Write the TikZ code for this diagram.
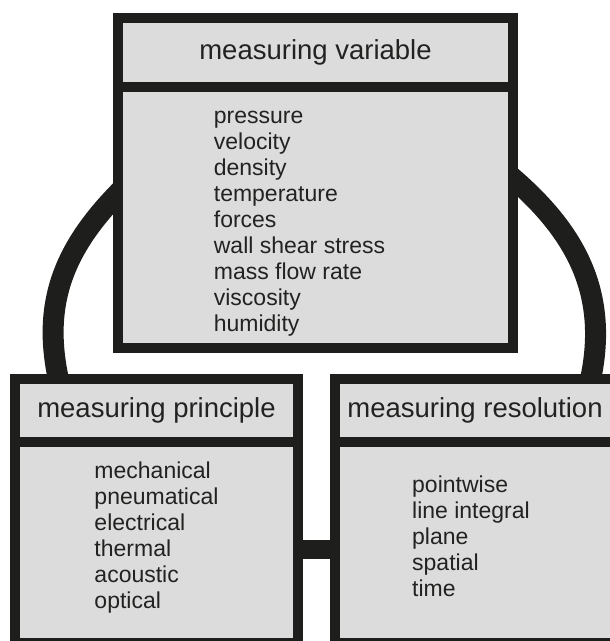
\documentclass[tikz,border=0pt]{standalone}
\usepackage{fontspec}
\setmainfont{Liberation Sans}
\usetikzlibrary{positioning}
\definecolor{boxColor}{HTML}{DCDCDC}
\definecolor{lineColor}{HTML}{1E1E1C}
\definecolor{textColor}{HTML}{222221}
\pgfdeclarelayer{background}
\pgfsetlayers{background,main}
\tikzstyle{header} = [rectangle, 
draw=lineColor, 
line width=10pt, 
fill=boxColor, 
outer sep=0pt, 
inner sep=0pt, 
text=textColor, 
font=\fontsize{27.5}{33}\selectfont]
\tikzstyle{listing} = [rectangle, 
draw=lineColor, 
line width=10pt, 
fill=boxColor, 
outer sep=0pt, 
inner sep=0pt, 
text=textColor, 
font=\fontsize{23}{26}\selectfont]
\tikzstyle{ring} = [draw=lineColor, line width=21pt, shorten <=-15pt, shorten >=-15pt]
\tikzstyle{bridge} = [draw=lineColor, line width=19pt]

\begin{document}
\begin{tikzpicture}[x=1pt,y=1pt]
    \useasboundingbox (0,0) rectangle (610,641);
    \clip (0,0) rectangle (610,641);
    % Nodes
    \node[header, minimum width=395pt, minimum height=69pt] (var) at (315.5,588.5) {measuring variable};
    \node[listing, below=0pt of var, minimum width=395pt, minimum height=261pt] (varlist) {\begin{tabular}{@{}l@{\hspace{32pt}}}\rule{0pt}{28pt}pressure\\velocity\\density\\temperature\\forces\\wall shear stress\\mass flow rate\\viscosity\\humidity\end{tabular}};
    \node[header, minimum width=283pt, minimum height=63pt] (prin) at (156.5,230.5) {measuring principle};
    \node[listing, below=0pt of prin, minimum width=283pt, minimum height=201pt] (prinlist) {\begin{tabular}{@{}l@{}}mechanical\\pneumatical\\electrical\\thermal\\acoustic\\optical\\[9pt]\end{tabular}};
    \node[header, right=37pt of prin, minimum width=280pt, minimum height=63pt] (res) {measuring resolution};
    \node[listing, below=0pt of res, minimum width=280pt, minimum height=201pt] (reslist) {\begin{tabular}{@{}l@{\hspace{8pt}}}pointwise\\line integral\\plane\\spatial\\time\\[7pt]\end{tabular}};

    % Connectors
    \begin{pgfonlayer}{background}
    \draw[ring] ([yshift=24.5pt]varlist.west) to[out=224, in=105] ([xshift=43pt]prin.north west);
    \draw[ring] ([yshift=39.5pt]varlist.east) to[out=321, in=75] ([xshift=-24pt]res.north east);
    \draw[bridge] ([yshift=-7pt]prinlist.east) -- ([yshift=-7pt]reslist.west);
    \end{pgfonlayer}
\end{tikzpicture}
\end{document}
